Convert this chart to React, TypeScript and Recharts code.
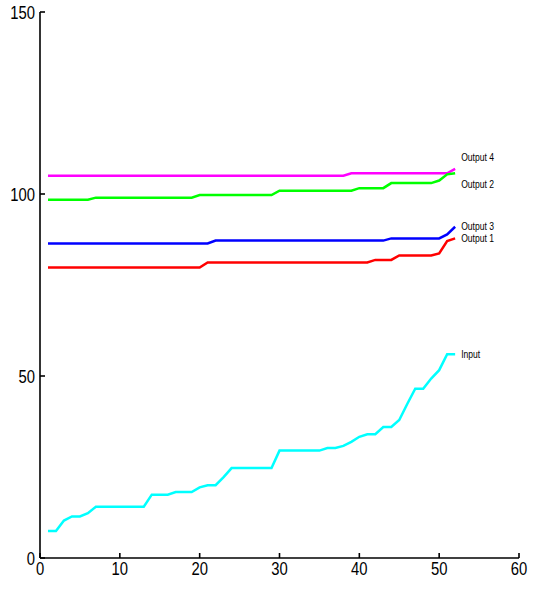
import React from 'react';
import { LineChart, Line, XAxis, YAxis } from 'recharts';

const steps = [
  1, 2, 3, 4, 5, 6, 7, 8, 9, 10, 11, 12, 13, 14, 15, 16, 17, 18, 19, 20, 21, 22, 23, 24, 25, 26,
  27, 28, 29, 30, 31, 32, 33, 34, 35, 36, 37, 38, 39, 40, 41, 42, 43, 44, 45, 46, 47, 48, 49, 50, 51, 52,
];

const input = [
  7.4, 7.4, 10.3, 11.4, 11.4, 12.3, 14.1, 14.1, 14.1, 14.1, 14.1, 14.1, 14.1, 17.4, 17.4, 17.4, 18.1, 18.1,
  18.1, 19.4, 20.0, 20.0, 22.2, 24.7, 24.7, 24.7, 24.7, 24.7, 24.7, 29.5, 29.5, 29.5, 29.5, 29.5, 29.5, 30.2,
  30.2, 30.8, 31.9, 33.3, 34.0, 34.0, 36.0, 36.0, 37.9, 42.3, 46.5, 46.5, 49.3, 51.6, 56.0, 56.0,
];

const output1 = [
  79.8, 79.8, 79.8, 79.8, 79.8, 79.8, 79.8, 79.8, 79.8, 79.8, 79.8, 79.8, 79.8, 79.8, 79.8, 79.8, 79.8, 79.8,
  79.8, 79.8, 81.2, 81.2, 81.2, 81.2, 81.2, 81.2, 81.2, 81.2, 81.2, 81.2, 81.2, 81.2, 81.2, 81.2, 81.2, 81.2,
  81.2, 81.2, 81.2, 81.2, 81.2, 81.9, 81.9, 81.9, 83.1, 83.1, 83.1, 83.1, 83.1, 83.7, 87.1, 87.8,
];

const output2 = [
  98.4, 98.4, 98.4, 98.4, 98.4, 98.4, 99.0, 99.0, 99.0, 99.0, 99.0, 99.0, 99.0, 99.0, 99.0, 99.0, 99.0, 99.0,
  99.0, 99.7, 99.7, 99.7, 99.7, 99.7, 99.7, 99.7, 99.7, 99.7, 99.7, 100.9, 100.9, 100.9, 100.9, 100.9, 100.9,
  100.9, 100.9, 100.9, 100.9, 101.6, 101.6, 101.6, 101.6, 103.0, 103.0, 103.0, 103.0, 103.0, 103.0, 103.7,
  105.4, 105.7,
];

const output3 = [
  86.4, 86.4, 86.4, 86.4, 86.4, 86.4, 86.4, 86.4, 86.4, 86.4, 86.4, 86.4, 86.4, 86.4, 86.4, 86.4, 86.4, 86.4,
  86.4, 86.4, 86.4, 87.2, 87.2, 87.2, 87.2, 87.2, 87.2, 87.2, 87.2, 87.2, 87.2, 87.2, 87.2, 87.2, 87.2, 87.2,
  87.2, 87.2, 87.2, 87.2, 87.2, 87.2, 87.2, 87.8, 87.8, 87.8, 87.8, 87.8, 87.8, 87.8, 88.9, 91.0,
];

const output4 = [
  105.0, 105.0, 105.0, 105.0, 105.0, 105.0, 105.0, 105.0, 105.0, 105.0, 105.0, 105.0, 105.0, 105.0, 105.0,
  105.0, 105.0, 105.0, 105.0, 105.0, 105.0, 105.0, 105.0, 105.0, 105.0, 105.0, 105.0, 105.0, 105.0, 105.0,
  105.0, 105.0, 105.0, 105.0, 105.0, 105.0, 105.0, 105.0, 105.7, 105.7, 105.7, 105.7, 105.7, 105.7, 105.7,
  105.7, 105.7, 105.7, 105.7, 105.7, 105.7, 106.9,
];

const xTicks = [0, 10, 20, 30, 40, 50, 60];
const yTicks = [0, 50, 100, 150];

const data = steps.map((x, i) => ({
  x,
  input: input[i],
  output1: output1[i],
  output2: output2[i],
  output3: output3[i],
  output4: output4[i],
}));

const FONT = '"Liberation Sans", Arial, sans-serif';
const SQUEEZE = 0.78; // the reference uses a condensed face

const series = [
  { key: 'output4', name: 'Output 4', color: '#ff00ff', dy: -12 },
  { key: 'output2', name: 'Output 2', color: '#00ff00', dy: 11 },
  { key: 'output3', name: 'Output 3', color: '#0000ff', dy: -1 },
  { key: 'output1', name: 'Output 1', color: '#ff0000', dy: 0 },
  { key: 'input', name: 'Input', color: '#00ffff', dy: 0 },
];

const endLabel = (name: string, dy: number) => (props: any) => {
  const { x, y, index } = props;
  if (index !== steps.length - 1) return null;
  return (
    <text
      transform={`translate(${x + 6},${y + dy}) scale(${SQUEEZE},1)`}
      dy="0.35em"
      fontSize={11}
      fontFamily={FONT}
      fill="#000"
    >
      {name}
    </text>
  );
};

const XTick = (props: any) => {
  const { x, y, payload } = props;
  return (
    <text
      transform={`translate(${x},${y}) scale(${SQUEEZE},1)`}
      textAnchor="middle"
      dy="0.72em"
      fontSize={19}
      fontFamily={FONT}
      fill="#000"
    >
      {payload.value}
    </text>
  );
};

const YTick = (props: any) => {
  const { x, y, payload } = props;
  return (
    <text
      transform={`translate(${x},${y}) scale(${SQUEEZE},1)`}
      textAnchor="end"
      dy="0.36em"
      fontSize={19}
      fontFamily={FONT}
      fill="#000"
    >
      {payload.value}
    </text>
  );
};

export default function App() {
  return (
    <div style={{ position: 'absolute', left: 0, top: 0, width: 538, height: 590 }}>
      <LineChart width={538} height={590} data={data} margin={{ top: 12, right: 19, bottom: 2, left: 0 }}>
        <XAxis
          dataKey="x"
          type="number"
          domain={[0, 60]}
          ticks={xTicks}
          height={30}
          tickSize={-5}
          tickMargin={8}
          stroke="#000"
          strokeWidth={1.6}
          tick={<XTick />}
        />
        <YAxis
          type="number"
          domain={[0, 150]}
          ticks={yTicks}
          width={40}
          tickSize={-5}
          tickMargin={10}
          stroke="#000"
          strokeWidth={1.6}
          tick={<YTick />}
        />
        {series.map((s) => (
          <Line
            key={s.key}
            type="linear"
            dataKey={s.key}
            stroke={s.color}
            strokeWidth={2.5}
            dot={false}
            isAnimationActive={false}
            label={endLabel(s.name, s.dy)}
          />
        ))}
      </LineChart>
    </div>
  );
}
